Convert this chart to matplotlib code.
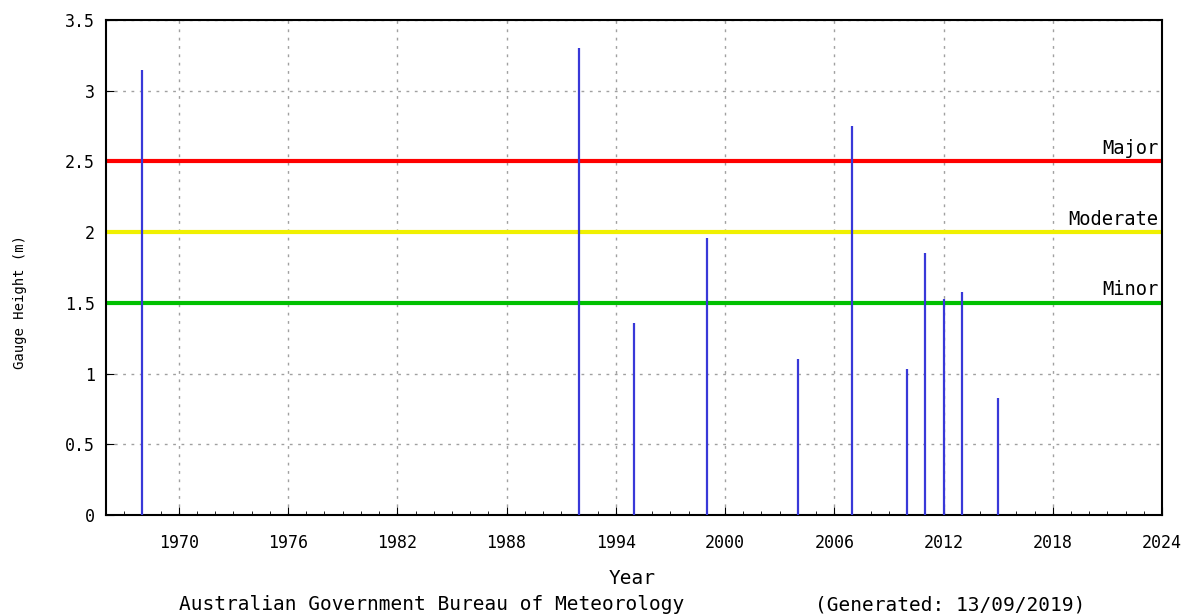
import matplotlib
matplotlib.use('Agg')
import matplotlib.pyplot as plt
from matplotlib.ticker import MultipleLocator, FuncFormatter

# peak gauge heights per year
years = [1968, 1992, 1995, 1999, 2004, 2007, 2010, 2011, 2012, 2013, 2015]
heights = [3.15, 3.30, 1.36, 1.96, 1.10, 2.75, 1.03, 1.85, 1.53, 1.58, 0.83]

# flood classification levels
levels = ['Minor', 'Moderate', 'Major']
level_values = [1.5, 2.0, 2.5]
level_colors = ['#00c000', '#f0f000', '#ff0000']

x_ticks = [1970, 1976, 1982, 1988, 1994, 2000, 2006, 2012, 2018, 2024]

plt.rcParams['font.family'] = ['DejaVu Sans Mono']
plt.rcParams['font.size'] = 12

fig = plt.figure(figsize=(11.83, 6.16), dpi=100)
ax = fig.add_axes([106 / 1183, 101 / 616, 1056 / 1183, 495 / 616])

for name, val, col in zip(levels, level_values, level_colors):
    ax.axhline(val, color=col, linewidth=3, zorder=2)
    ax.text(2023.8, val + 0.025, name, ha='right', va='bottom', fontsize=13.5)

ax.vlines(years, 0, heights, color='#3838d8', linewidth=1.6, zorder=3)

ax.set_xlim(1966, 2024)
ax.set_ylim(0, 3.5)
ax.set_xticks(x_ticks)
ax.xaxis.set_minor_locator(MultipleLocator(1))
ax.yaxis.set_major_locator(MultipleLocator(0.5))
ax.yaxis.set_major_formatter(FuncFormatter(lambda v, p: '%g' % v))
ax.tick_params(which='both', direction='in', top=False, right=False, labelsize=12)
ax.tick_params(axis='y', which='major', length=6, pad=8)
ax.tick_params(axis='x', which='major', length=6, pad=14)
ax.tick_params(which='minor', length=3)
ax.grid(True, which='major', linestyle=(0, (2, 4)), color='#a0a0a0', linewidth=1)
for s in ax.spines.values():
    s.set_linewidth(1.5)

fig.text(20 / 1183, 1 - 302 / 616, 'Gauge Height (m)', rotation=90,
         ha='center', va='center', fontsize=10)
fig.text(632 / 1183, 1 - 578 / 616, 'Year', ha='center', va='center', fontsize=14)
fig.text(432 / 1183, 1 - 605 / 616, 'Australian Government Bureau of Meteorology',
         ha='center', va='center', fontsize=14)
fig.text(950 / 1183, 1 - 605 / 616, '(Generated: 13/09/2019)',
         ha='center', va='center', fontsize=14)

fig.savefig('out.png', dpi=100)
